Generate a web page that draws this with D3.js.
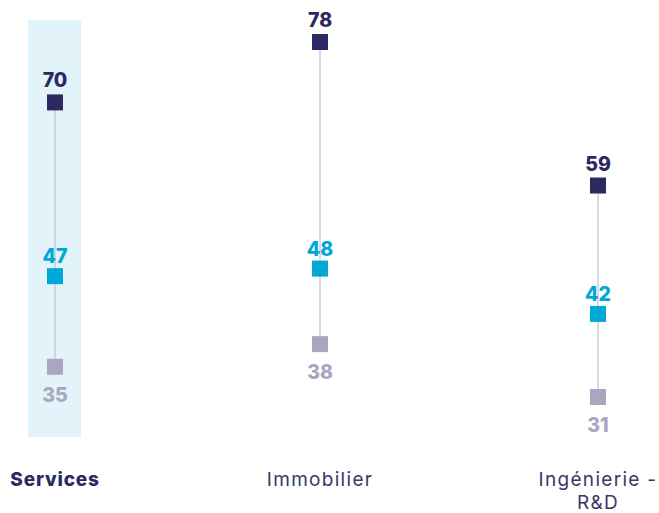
<!DOCTYPE html>
<html>
<head>
<meta charset="utf-8">
<script src="https://cdn.jsdelivr.net/npm/d3@7"></script>
<style>
  body { margin: 0; background: #fff; }
  text { font-family: Inter, "Open Sans", sans-serif; }
</style>
</head>
<body>
<svg width="659" height="513"></svg>
<script>
var categories = ["Services", "Immobilier", "Ingénierie - R&D"];
var highValues = [70, 78, 59];
var midValues = [47, 48, 42];
var lowValues = [35, 38, 31];
var highlighted = "Services";

var svg = d3.select("svg"),
    width = +svg.attr("width"),
    height = +svg.attr("height");

var navy = "#2b2960", cyan = "#00a8d6", lilac = "#aaa6c1";

var x = d3.scaleOrdinal()
    .domain(categories)
    .range([55, 320, 598]);

var y = d3.scaleLinear()
    .domain([31, 78])
    .range([397, 42]);

var data = categories.map(function(c, i) {
  return { cat: c, high: highValues[i], mid: midValues[i], low: lowValues[i] };
});

// highlight band
svg.append("rect")
    .attr("x", x(highlighted) - 27)
    .attr("y", 20)
    .attr("width", 53)
    .attr("height", 417)
    .attr("fill", "#e2f3fa");

var g = svg.selectAll(".cat")
  .data(data)
  .enter().append("g")
    .attr("class", "cat")
    .attr("transform", function(d) { return "translate(" + x(d.cat) + ",0)"; });

g.append("line")
    .attr("y1", function(d) { return y(d.high); })
    .attr("y2", function(d) { return y(d.low); })
    .attr("stroke", "#c3c2cf")
    .attr("stroke-width", 1.2);

var series = [
  { key: "high", color: navy, dy: -15 },
  { key: "mid", color: cyan, dy: -13 },
  { key: "low", color: lilac, dy: 35 }
];

series.forEach(function(s) {
  g.append("rect")
      .attr("x", -8)
      .attr("y", function(d) { return y(d[s.key]) - 8; })
      .attr("width", 16)
      .attr("height", 16)
      .attr("fill", s.color);

  g.append("text")
      .attr("y", function(d) { return y(d[s.key]) + s.dy; })
      .attr("text-anchor", "middle")
      .attr("font-size", 19.5)
      .attr("font-weight", 800)
      .attr("fill", s.color)
      .text(function(d) { return d[s.key]; });
});

// category labels
var labels = g.append("text")
    .attr("y", 486)
    .attr("text-anchor", "middle")
    .attr("font-size", 19)
    .attr("letter-spacing", function(d) { return d.cat === highlighted ? 0.8 : 1.3; })
    .attr("font-weight", function(d) { return d.cat === highlighted ? 800 : 400; })
    .attr("fill", function(d) { return d.cat === highlighted ? navy : "#3a3766"; });

labels.each(function(d) {
  var t = d3.select(this);
  var parts = d.cat === "Ingénierie - R&D" ? ["Ingénierie -", "R&D"] : [d.cat];
  parts.forEach(function(p, i) {
    t.append("tspan")
        .attr("x", 0)
        .attr("dy", i === 0 ? 0 : 23)
        .text(p);
  });
});
</script>
</body>
</html>
